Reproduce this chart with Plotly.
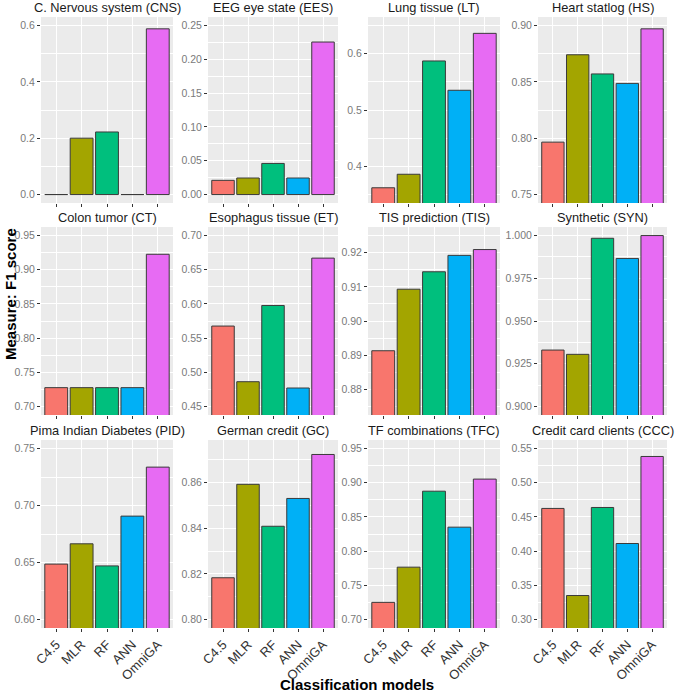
import plotly.graph_objects as go

# ---------------- data ----------------
models = ["C4.5", "MLR", "RF", "ANN", "OmniGA"]

titles = [
    "C. Nervous system (CNS)", "EEG eye state (EES)", "Lung tissue (LT)", "Heart statlog (HS)",
    "Colon tumor (CT)", "Esophagus tissue (ET)", "TIS prediction (TIS)", "Synthetic (SYN)",
    "Pima Indian Diabetes (PID)", "German credit (GC)", "TF combinations (TFC)", "Credit card clients (CCC)",
]

cns = [0.0, 0.200, 0.222, 0.0, 0.588]
ees = [0.021, 0.0245, 0.046, 0.0245, 0.2255]
lt = [0.362, 0.386, 0.587, 0.535, 0.636]
hs = [0.7965, 0.874, 0.857, 0.8486, 0.897]
ct = [0.7275, 0.7275, 0.7275, 0.7275, 0.9226]
et = [0.5676, 0.4862, 0.5977, 0.477, 0.667]
tis = [0.8913, 0.9093, 0.9144, 0.9192, 0.9209]
syn = [0.933, 0.9305, 0.9984, 0.9866, 1.000]
pid = [0.6486, 0.6664, 0.647, 0.6907, 0.7337]
gc = [0.8183, 0.8593, 0.8409, 0.8531, 0.8724]
tfc = [0.725, 0.7765, 0.8876, 0.835, 0.9053]
ccc = [0.4624, 0.335, 0.4638, 0.4111, 0.5384]

values = [cns, ees, lt, hs, ct, et, tis, syn, pid, gc, tfc, ccc]

# y-axis limits (before ggplot-style 5% expansion), major tick step and label format
y_low = [0.0, 0.0, 0.35, 0.75, 0.70, 0.45, 0.875, 0.90, 0.60, 0.80, 0.70, 0.30]
y_high = [0.6, 0.25, 0.65, 0.90, 0.95, 0.70, 0.925, 1.00, 0.75, 0.875, 0.95, 0.55]
y_step = [0.2, 0.05, 0.1, 0.05, 0.05, 0.05, 0.01, 0.025, 0.05, 0.02, 0.05, 0.05]
y_fmt = [".1f", ".2f", ".1f", ".2f", ".2f", ".2f", ".2f", ".3f", ".2f", ".2f", ".2f", ".2f"]
y_first = [0.0, 0.0, 0.4, 0.75, 0.70, 0.45, 0.88, 0.90, 0.60, 0.80, 0.70, 0.30]

# ---------------- style ----------------
bar_colors = ["#F8766D", "#A3A500", "#00BF7D", "#00B0F6", "#E76BF3"]
W, H = 675, 696
col_px = [(41, 173), (208, 338), (368, 500), (538, 667)]
row_px = [(17, 203), (227, 415), (440, 628)]
FONT = "Liberation Sans, Arial, sans-serif"


def xp(px):
    return px / W


def yp(py):
    return 1 - py / H


fig = go.Figure()
layout = {}
annotations = []

for i in range(12):
    r, c = divmod(i, 4)
    n = i + 1
    xs = "" if n == 1 else str(n)
    fig.add_trace(go.Bar(
        x=models, y=values[i],
        marker=dict(color=bar_colors, line=dict(color="#3a3a3a", width=1)),
        xaxis="x" + xs, yaxis="y" + xs, showlegend=False,
        hovertemplate="%{x}: %{y}<extra></extra>",
    ))
    x0, x1 = col_px[c]
    y0, y1 = row_px[r]
    span = y_high[i] - y_low[i]
    layout["xaxis" + xs] = dict(
        domain=[xp(x0), xp(x1)], anchor="y" + xs,
        type="category", range=[-0.6, 4.6],
        showgrid=True, gridcolor="white", gridwidth=1.1,
        ticks="outside", ticklen=3, tickcolor="#333333", tickwidth=1,
        showticklabels=(r == 2), tickangle=-45,
        tickfont=dict(family=FONT, size=13, color="#333333"),
        zeroline=False, showline=False, fixedrange=True, automargin=False,
    )
    layout["yaxis" + xs] = dict(
        domain=[yp(y1), yp(y0)], anchor="x" + xs,
        range=[y_low[i] - 0.05 * span, y_high[i] + 0.05 * span],
        tick0=y_first[i], dtick=y_step[i], tickformat=y_fmt[i],
        showgrid=True, gridcolor="white", gridwidth=1.1,
        minor=dict(showgrid=True, gridcolor="white", gridwidth=0.5,
                   dtick=y_step[i] / 2, tick0=y_first[i] - y_step[i] / 2, ticks=""),
        ticks="outside", ticklen=3, tickcolor="#333333", tickwidth=1,
        tickfont=dict(family=FONT, size=10.5, color="#7a7a7a"),
        zeroline=False, showline=False, fixedrange=True, automargin=False,
    )
    annotations.append(dict(
        text=titles[i], x=xp((x0 + x1) / 2), y=yp(y0 - 9),
        xref="paper", yref="paper", xanchor="center", yanchor="middle",
        showarrow=False, font=dict(family=FONT, size=12.8, color="#1a1a1a"),
    ))

annotations.append(dict(
    text="<b>Measure: F1 score</b>", x=xp(10), y=yp(294), textangle=-90,
    xref="paper", yref="paper", xanchor="center", yanchor="middle",
    showarrow=False, font=dict(family=FONT, size=15, color="#000000"),
))
annotations.append(dict(
    text="<b>Classification models</b>", x=xp(357), y=yp(684),
    xref="paper", yref="paper", xanchor="center", yanchor="middle",
    showarrow=False, font=dict(family=FONT, size=15, color="#000000"),
))

fig.update_layout(
    width=W, height=H,
    margin=dict(l=0, r=0, t=0, b=0, autoexpand=False),
    paper_bgcolor="white", plot_bgcolor="#EBEBEB",
    bargap=0.1, showlegend=False,
    annotations=annotations,
    font=dict(family=FONT),
    **layout,
)

fig.write_html("out.html", config={"displayModeBar": False},
               post_script="document.body.style.margin='0px';")
